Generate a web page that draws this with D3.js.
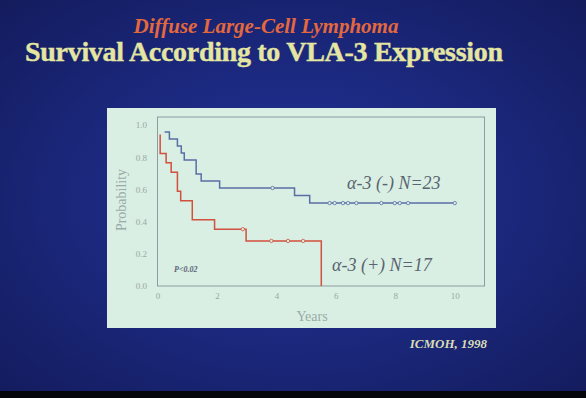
<!DOCTYPE html>
<html>
<head>
<meta charset="utf-8">
<script src="https://cdn.jsdelivr.net/npm/d3@7"></script>
<style>
  body { margin: 0; background: #000; }
  svg { display: block; }
</style>
</head>
<body>
<div id="chart"></div>
<script>
// Kaplan-Meier steps (years, survival after the drop)
var negStart = [0.24, 0.957];
var negTimes = [0.40, 0.67, 0.80, 0.90, 1.30, 1.47, 2.09, 4.61, 5.12];
var negSurv  = [0.913, 0.870, 0.826, 0.783, 0.696, 0.652, 0.609, 0.562, 0.515];
var negEnd = 10.0;
var negCensor = [3.87, 5.79, 5.96, 6.24, 6.41, 6.69, 7.53, 7.98, 8.15, 8.43, 10.0];

var posStart = [0.09, 0.941];
var posTimes = [0.09, 0.29, 0.46, 0.67, 0.78, 1.17, 1.92, 2.98, 5.51];
var posSurv  = [0.824, 0.765, 0.706, 0.588, 0.529, 0.412, 0.353, 0.280, 0.0];
var posCensor = [2.87, 3.83, 4.39, 4.90];

var xTicks = [0, 2, 4, 6, 8, 10];
var yTicks = [0, 0.2, 0.4, 0.6, 0.8, 1.0];

var W = 586, H = 398;

var svg = d3.select("#chart").append("svg")
  .attr("width", W)
  .attr("height", H);

// background of the slide
var defs = svg.append("defs");
var grad = defs.append("radialGradient").attr("id", "bg")
  .attr("cx", "50%").attr("cy", "50%").attr("r", "70%");
grad.append("stop").attr("offset", "0%").attr("stop-color", "#22349c");
grad.append("stop").attr("offset", "100%").attr("stop-color", "#141c5e");

svg.append("rect").attr("width", W).attr("height", H).attr("fill", "url(#bg)");
svg.append("rect").attr("y", 391).attr("width", W).attr("height", 7).attr("fill", "#05060c");

// titles
svg.append("text")
  .attr("x", 266).attr("y", 33)
  .attr("text-anchor", "middle")
  .attr("font-family", "Liberation Serif, serif")
  .attr("font-style", "italic").attr("font-weight", "bold")
  .attr("font-size", 21)
  .attr("fill", "#e4683e")
  .text("Diffuse Large-Cell Lymphoma");

svg.append("text")
  .attr("x", 264).attr("y", 61)
  .attr("text-anchor", "middle")
  .attr("font-family", "Liberation Serif, serif")
  .attr("font-weight", "bold")
  .attr("font-size", 28)
  .attr("textLength", 478)
  .attr("stroke", "#e4e6a2").attr("stroke-width", 0.4)
  .attr("fill", "#e4e6a2")
  .text("Survival According to VLA-3 Expression");

// light panel
svg.append("rect")
  .attr("x", 107).attr("y", 108).attr("width", 389).attr("height", 220)
  .attr("fill", "#d9efe3");

var x = d3.scaleLinear().domain([0, 11]).range([157.5, 484.5]);
var y = d3.scaleLinear().domain([0, 1.05]).range([286, 117]);

// frame
svg.append("rect")
  .attr("x", x(0)).attr("y", y(1.05))
  .attr("width", x(11) - x(0)).attr("height", y(0) - y(1.05))
  .attr("fill", "none").attr("stroke", "#8c9ca4").attr("stroke-width", 1);

var xAxis = svg.append("g")
  .attr("transform", "translate(0," + (y(0) + 2) + ")")
  .call(d3.axisBottom(x).tickValues(xTicks).tickSize(0).tickFormat(d3.format("d")));
var yAxis = svg.append("g")
  .attr("transform", "translate(" + (x(0) - 2) + ",0)")
  .call(d3.axisLeft(y).tickValues(yTicks).tickSize(0).tickFormat(d3.format(".1f")));

[xAxis, yAxis].forEach(function(g) {
  g.select(".domain").remove();
  g.selectAll("text")
    .attr("font-family", "Liberation Serif, serif")
    .attr("font-size", 9)
    .attr("fill", "#98a8a6");
});
xAxis.selectAll("text").attr("dy", "0.9em");
yAxis.selectAll("text").attr("dx", "-0.6em");

svg.append("text")
  .attr("x", 312).attr("y", 321)
  .attr("text-anchor", "middle")
  .attr("font-family", "Liberation Serif, serif")
  .attr("font-size", 14)
  .attr("fill", "#9aaaa8")
  .text("Years");

svg.append("text")
  .attr("transform", "translate(126,200) rotate(-90)")
  .attr("text-anchor", "middle")
  .attr("font-family", "Liberation Serif, serif")
  .attr("font-size", 14)
  .attr("fill", "#9aaaa8")
  .text("Probability");

// build step paths
function steps(start, times, surv, end) {
  var pts = [start];
  var s = start[1];
  times.forEach(function(t, i) {
    pts.push([t, s]);
    pts.push([t, surv[i]]);
    s = surv[i];
  });
  if (end != null) pts.push([end, s]);
  return pts;
}
function survAt(start, times, surv, t) {
  var s = start[1];
  times.forEach(function(tt, i) { if (tt <= t) s = surv[i]; });
  return s;
}

var line = d3.line().x(function(d) { return x(d[0]); }).y(function(d) { return y(d[1]); });

var curves = [
  { pts: steps(negStart, negTimes, negSurv, negEnd), color: "#5a6ea6",
    censor: negCensor, start: negStart, times: negTimes, surv: negSurv },
  { pts: steps(posStart, posTimes, posSurv, null), color: "#d2503e",
    censor: posCensor, start: posStart, times: posTimes, surv: posSurv }
];

curves.forEach(function(c) {
  svg.append("path")
    .attr("d", line(c.pts))
    .attr("fill", "none")
    .attr("stroke", c.color)
    .attr("stroke-width", 1.5);
  svg.selectAll(null).data(c.censor).enter().append("circle")
    .attr("cx", function(d) { return x(d); })
    .attr("cy", function(d) { return y(survAt(c.start, c.times, c.surv, d)); })
    .attr("r", 1.7)
    .attr("fill", "#d9efe3")
    .attr("stroke", c.color)
    .attr("stroke-width", 0.8);
});

// group labels
svg.append("text")
  .attr("x", 347).attr("y", 189)
  .attr("font-family", "Liberation Serif, serif")
  .attr("font-style", "italic")
  .attr("font-size", 18)
  .attr("fill", "#5a6470")
  .text("\u03b1-3 (-) N=23");

svg.append("text")
  .attr("x", 332).attr("y", 271)
  .attr("font-family", "Liberation Serif, serif")
  .attr("font-style", "italic")
  .attr("font-size", 18)
  .attr("fill", "#5a6470")
  .text("\u03b1-3 (+) N=17");

svg.append("text")
  .attr("x", 174).attr("y", 272)
  .attr("font-family", "Liberation Serif, serif")
  .attr("font-style", "italic").attr("font-weight", "bold")
  .attr("font-size", 8)
  .attr("fill", "#5a6478")
  .text("P<0.02");

svg.append("text")
  .attr("x", 487).attr("y", 348)
  .attr("text-anchor", "end")
  .attr("font-family", "Liberation Serif, serif")
  .attr("font-style", "italic").attr("font-weight", "bold")
  .attr("font-size", 13)
  .attr("fill", "#d8dcb6")
  .text("ICMOH, 1998");
</script>
</body>
</html>
